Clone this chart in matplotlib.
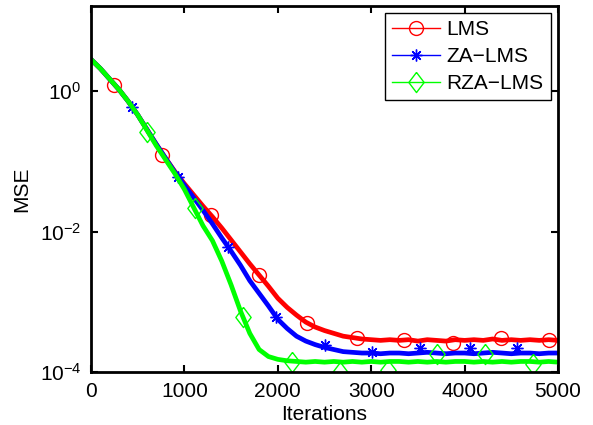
import numpy as np
import matplotlib
matplotlib.use("Agg")
import matplotlib.pyplot as plt
from matplotlib.lines import Line2D

plt.rcParams['font.family'] = ['Liberation Sans', 'DejaVu Sans']
plt.rcParams['mathtext.default'] = 'regular'

iters = np.arange(0, 5001, 100)

lms_log = [0.45, 0.32, 0.17, 0.02, -0.15, -0.34, -0.55, -0.76, -0.96, -1.15,
           -1.32, -1.48, -1.64, -1.79, -1.95, -2.12, -2.29, -2.46, -2.62, -2.78,
           -2.95, -3.08, -3.19, -3.29, -3.36, -3.41, -3.45, -3.49, -3.51, -3.53,
           -3.54, -3.55, -3.54, -3.55, -3.54, -3.56, -3.54, -3.55, -3.56, -3.54,
           -3.55, -3.54, -3.55, -3.53, -3.55, -3.54, -3.55, -3.54, -3.55, -3.54, -3.55]
zalms_log = [0.45, 0.32, 0.17, 0.02, -0.15, -0.34, -0.55, -0.76, -0.96, -1.16,
             -1.34, -1.52, -1.70, -1.89, -2.09, -2.28, -2.48, -2.70, -2.88, -3.06,
             -3.25, -3.38, -3.49, -3.56, -3.61, -3.65, -3.68, -3.71, -3.72, -3.73,
             -3.73, -3.74, -3.73, -3.73, -3.74, -3.73, -3.72, -3.73, -3.74, -3.73,
             -3.73, -3.74, -3.73, -3.72, -3.73, -3.74, -3.73, -3.73, -3.74, -3.73, -3.73]
rzalms_log = [0.45, 0.32, 0.17, 0.02, -0.15, -0.34, -0.56, -0.78, -0.98, -1.18,
              -1.40, -1.66, -1.92, -2.13, -2.42, -2.76, -3.13, -3.45, -3.68, -3.78,
              -3.82, -3.84, -3.85, -3.86, -3.85, -3.86, -3.85, -3.86, -3.85, -3.86,
              -3.85, -3.86, -3.85, -3.85, -3.86, -3.85, -3.86, -3.85, -3.86, -3.85,
              -3.85, -3.86, -3.85, -3.86, -3.85, -3.86, -3.85, -3.85, -3.86, -3.85, -3.86]

# marker positions as drawn in the picture
lms_mk_x = [246, 760, 1285, 1799, 2313, 2848, 3351, 3876, 4390, 4904]
lms_mk_log = [0.085, -0.91, -1.77, -2.62, -3.30, -3.52, -3.545, -3.59, -3.52, -3.545]
zalms_mk_x = [439, 931, 1467, 1981, 2500, 3010, 3523, 4058, 4561]
zalms_mk_log = [-0.228, -1.22, -2.22, -3.22, -3.62, -3.72, -3.66, -3.66, -3.66]
rzalms_mk_x = [600, 1113, 1627, 2152, 2666, 3180, 3704, 4218, 4732]
rzalms_mk_log = [-0.58, -1.67, -3.22, -3.86, -4.0, -3.97, -3.74, -3.74, -3.89]

names = ['LMS', 'ZA\u2212LMS', 'RZA\u2212LMS']
colors = ['#ff0000', '#0000ff', '#00ff00']

diamond = [(0, 1), (0.76, 0), (0, -1), (-0.76, 0), (0, 1)]
markers = ['o', (8, 2, 0), diamond]
msizes = [10, 8.5, 14.5]

fig = plt.figure(figsize=(5.93, 4.25), dpi=100)
ax = fig.add_axes([91 / 593, 1 - 372 / 425, (558 - 91) / 593, (372 - 6) / 425])

curves = [lms_log, zalms_log, rzalms_log]
mk_x = [lms_mk_x, zalms_mk_x, rzalms_mk_x]
mk_y = [lms_mk_log, zalms_mk_log, rzalms_mk_log]

handles = []
for i in range(3):
    ax.plot(iters, 10 ** np.array(curves[i]), color=colors[i], lw=3.4,
            solid_joinstyle='round')
    ax.plot(mk_x[i], 10 ** np.array(mk_y[i]), ls='none', marker=markers[i],
            ms=msizes[i], mfc='none', mec=colors[i], mew=1.0)
    handles.append(Line2D([], [], color=colors[i], lw=1.0, marker=markers[i],
                          ms=msizes[i], mfc='none', mec=colors[i], mew=1.0))

ax.set_yscale('log')
ax.set_xlim(0, 5000)
ax.set_ylim(1e-4, 10 ** 1.21)
ax.set_xticks([0, 1000, 2000, 3000, 4000, 5000])
ax.set_yticks([1e-4, 1e-2, 1e0])
ax.set_yticklabels(['$10^{-4}$', '$10^{-2}$', '$10^{0}$'])
ax.yaxis.set_minor_locator(matplotlib.ticker.NullLocator())
ax.tick_params(direction='in', length=5, width=1.5, top=True, right=True,
               labelsize=15, pad=7)
for s in ax.spines.values():
    s.set_linewidth(2.0)

ax.set_xlabel('Iterations', fontsize=15, labelpad=3)
ax.set_ylabel('MSE', fontsize=15, labelpad=6)

leg = ax.legend(handles, names, loc='upper right', fontsize=15,
                bbox_to_anchor=(551 / 593, 1 - 13 / 425),
                bbox_transform=fig.transFigure, borderaxespad=0,
                fancybox=False, framealpha=1, edgecolor='black',
                handlelength=2.3, handletextpad=0.3, labelspacing=0.38,
                borderpad=0.35)
leg.get_frame().set_linewidth(1.0)

fig.savefig('out.png', dpi=100)
